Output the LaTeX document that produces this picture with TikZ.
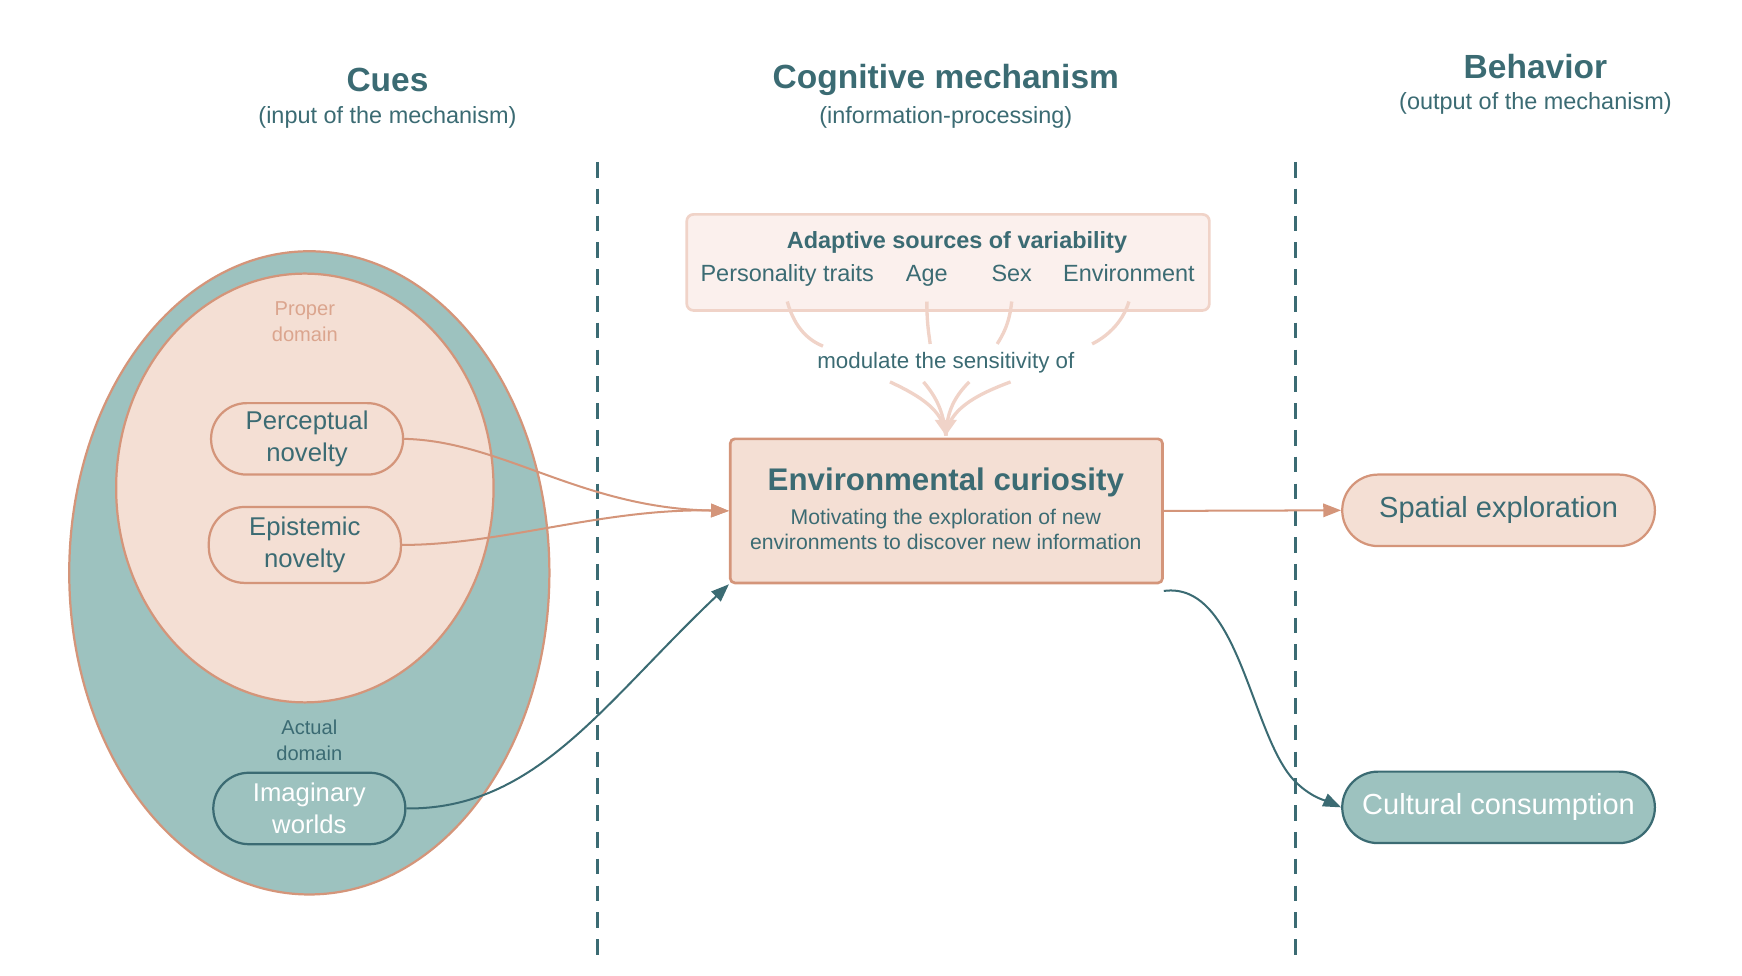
\documentclass[tikz,border=0pt]{standalone}
\usepackage{fontspec}
\setmainfont{Liberation Sans}
\usetikzlibrary{arrows.meta,shapes.geometric}
\definecolor{tealdk}{HTML}{3B6B73}
\definecolor{tealfill}{HTML}{9DC2BF}
\definecolor{salmon}{HTML}{D4957A}
\definecolor{peach}{HTML}{F4DFD4}
\definecolor{lightpk}{HTML}{FBF0ED}
\definecolor{pkline}{HTML}{F0D3C8}
\definecolor{propertx}{HTML}{DBA58E}
\begin{document}
\begin{tikzpicture}[x=0.5pt,y=-0.5pt,
  title/.style={font=\bfseries\fontsize{15}{18}\selectfont,text=tealdk},
  sub/.style={font=\fontsize{10.5}{12}\selectfont,text=tealdk},
  pill/.style={draw=salmon,fill=peach,line width=1pt,rounded corners=16pt,minimum width=86pt,minimum height=32pt,align=center,text=tealdk,font=\fontsize{11.5}{14.5}\selectfont,inner sep=0pt},
  tpill/.style={pill,draw=tealdk,fill=tealfill,text=white},
  small/.style={font=\fontsize{9}{11.5}\selectfont,align=center},
  arr/.style={line width=0.9pt,-{Triangle[length=8pt,width=6pt]}},
  divider/.style={tealdk,line width=1.2pt,dash pattern=on 7pt off 5pt}]
\useasboundingbox (0,0) rectangle (1560,874);
% titles
\node[title] (t1) at (347,72) {Cues};
\node[sub] (s1) at (347,105) {(input of the mechanism)};
\node[title] (t2) at (847,72) {Cognitive mechanism};
\node[sub] (s2) at (847,105) {(information-processing)};
\node[title] (t3) at (1375,60) {Behavior};
\node[sub] (s3) at (1375,93) {(output of the mechanism)};
% dashed lines
\coordinate (d1a) at (535,145); \coordinate (d1b) at (535,858);
\coordinate (d2a) at (1160,145); \coordinate (d2b) at (1160,858);
\draw[divider] (d1a) -- (d1b);
\draw[divider] (d2a) -- (d2b);
% ellipses
\draw[salmon,fill=tealfill,line width=1pt] (277,513) ellipse [x radius=215,y radius=288];
\draw[salmon,fill=peach,line width=1pt] (273,437) ellipse [x radius=169,y radius=192];
\node[small,text=propertx] (pd) at (273,288) {Proper\\domain};
\node[small,text=tealdk] (ad) at (277,663) {Actual\\domain};
\node[pill] (pn) at (275,393) {Perceptual\\novelty};
\node[pill,minimum height=34pt] (en) at (273,488) {Epistemic\\novelty};
\node[tpill] (iw) at (277,724) {Imaginary\\worlds};
% adaptive box
\node[draw=pkline,fill=lightpk,line width=1.2pt,rounded corners=3pt,minimum width=234pt,minimum height=43pt] (ab) at (849,235) {};
\node[font=\bfseries\fontsize{10.5}{12}\selectfont,text=tealdk] (abt) at (857,217) {Adaptive sources of variability};
\node[sub,anchor=base] (pt) at (705,252) {Personality traits};
\node[sub,anchor=base] (ag) at (830,252) {Age};
\node[sub,anchor=base] (sx) at (906,252) {Sex};
\node[sub,anchor=base] (ev) at (1011,252) {Environment};
\node[sub,font=\fontsize{10}{12}\selectfont] (mod) at (847,325) {modulate the sensitivity of};
\coordinate (tip) at (847,390);
\begin{scope}[pkline,line width=1.5pt]
\draw (705,270) .. controls (712,295) and (725,305) .. (737,310);
\draw (830,270) .. controls (830,290) and (832,300) .. (833,308);
\draw (906,270) .. controls (904,290) and (898,300) .. (893,308);
\draw (1011,270) .. controls (1005,290) and (990,302) .. (978,308);
\draw (797,342) .. controls (825,355) and (845,368) .. (tip);
\draw (827,342) .. controls (838,355) and (845,368) .. (tip);
\draw (868,342) .. controls (855,355) and (848,368) .. (tip);
\draw (905,342) .. controls (870,355) and (850,368) .. (tip);
\fill (tip) -- ++(-10,-14) -- ++(20,0) -- cycle;
\end{scope}
% main box
\node[draw=salmon,fill=peach,line width=1.2pt,rounded corners=2pt,minimum width=193.5pt,minimum height=64.5pt] (ec) at (847.5,457.5) {};
\node[font=\bfseries\fontsize{14}{16}\selectfont,text=tealdk] (ect) at (847,432) {Environmental curiosity};
\node[sub,font=\fontsize{9.5}{11.5}\selectfont,align=center] (ecs) at (847,474) {Motivating the exploration of new\\environments to discover new information};
% outputs
\node[pill,minimum width=140pt,font=\fontsize{13}{15}\selectfont] (sp) at (1342,457) {Spatial exploration};
\node[tpill,minimum width=140pt,font=\fontsize{13}{15}\selectfont] (cc) at (1342,723) {Cultural consumption};
% arrows
\coordinate (in) at (ec.west);
\draw[arr,salmon] (pn.east) .. controls (450,395) and (520,455) .. (in);
\draw[arr,salmon] (en.east) .. controls (450,488) and (540,455) .. (in);
\draw[arr,tealdk] (iw.east) .. controls (480,725) and (540,630) .. (ec.south west);
\draw[arr,salmon] (ec.east) -- (sp.west);
\draw[arr,tealdk] ([yshift=-3pt]ec.south east) .. controls (1110,520) and (1120,660) .. (1160,700) .. controls (1175,715) and (1190,718) .. (cc.west);
\end{tikzpicture}
\end{document}
